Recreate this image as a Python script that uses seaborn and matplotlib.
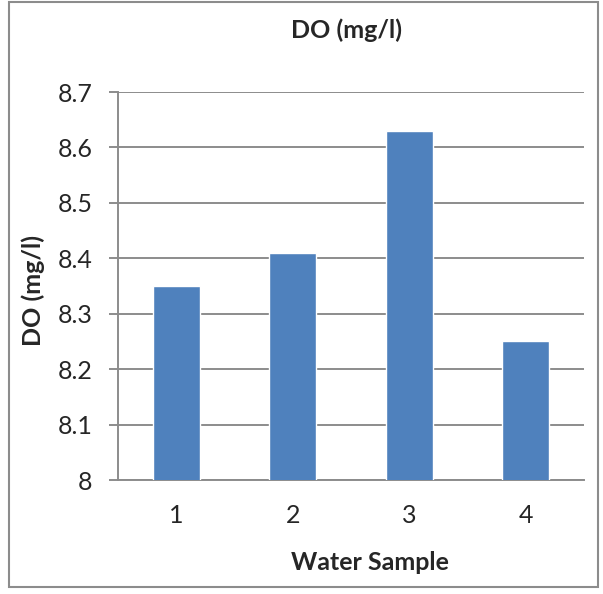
import matplotlib
matplotlib.use("Agg")
import matplotlib.pyplot as plt
import seaborn as sns
import pandas as pd
from matplotlib.patches import Rectangle

samples = ["1", "2", "3", "4"]
do_values = [8.35, 8.41, 8.63, 8.25]
yticks = [8.0, 8.1, 8.2, 8.3, 8.4, 8.5, 8.6, 8.7]
ytick_labels = ["8", "8.1", "8.2", "8.3", "8.4", "8.5", "8.6", "8.7"]

sns.set_style("white")
plt.rcParams['font.family'] = ['Lato', 'DejaVu Sans']

df = pd.DataFrame({"sample": samples, "do": do_values})

fig = plt.figure(figsize=(6.03, 5.94), dpi=100)
ax = fig.add_axes([118/603, 1-480/594, (584-118)/603, (480-92)/594])

sns.barplot(data=df, x="sample", y="do", color="#4F81BD", width=0.4,
            saturation=1, ax=ax, zorder=3)
ax.set_ylim(8.0, 8.7)
ax.set_xlim(-0.5, 3.5)
ax.set_yticks(yticks)
ax.set_yticklabels(ytick_labels)
ax.grid(axis="y", color="#8C8C8C", linewidth=1.4, zorder=0)
ax.set_axisbelow(True)
for s in ["top", "right"]:
    ax.spines[s].set_visible(False)
ax.spines["left"].set_color("#8C8C8C")
ax.spines["left"].set_linewidth(1.4)
ax.spines["bottom"].set_color("#8C8C8C")
ax.spines["bottom"].set_linewidth(1.4)
ax.tick_params(axis="y", length=6.5, width=1.4, color="#8C8C8C", labelsize=18, pad=12, left=True)
ax.tick_params(axis="x", length=0, labelsize=18, pad=17)
ax.set_xlabel("Water Sample", fontsize=18, fontweight="bold")
ax.set_ylabel("DO (mg/l)", fontsize=18, fontweight="bold")
ax.xaxis.set_label_coords((370-118)/466, (480-563)/388)
ax.yaxis.set_label_coords((33-118)/466, (480-290)/388)
ax.xaxis.label.set_va("center")
ax.yaxis.label.set_va("center")
fig.text(346/603, 1-30/594, "DO (mg/l)", ha="center", va="center", fontsize=18, fontweight="bold")

fig.patches.append(Rectangle((9/603, 7/594), 589/603, 585/594, transform=fig.transFigure,
                             fill=False, edgecolor="#8C8C8C", linewidth=1.5))

fig.savefig("out.png", dpi=100)
